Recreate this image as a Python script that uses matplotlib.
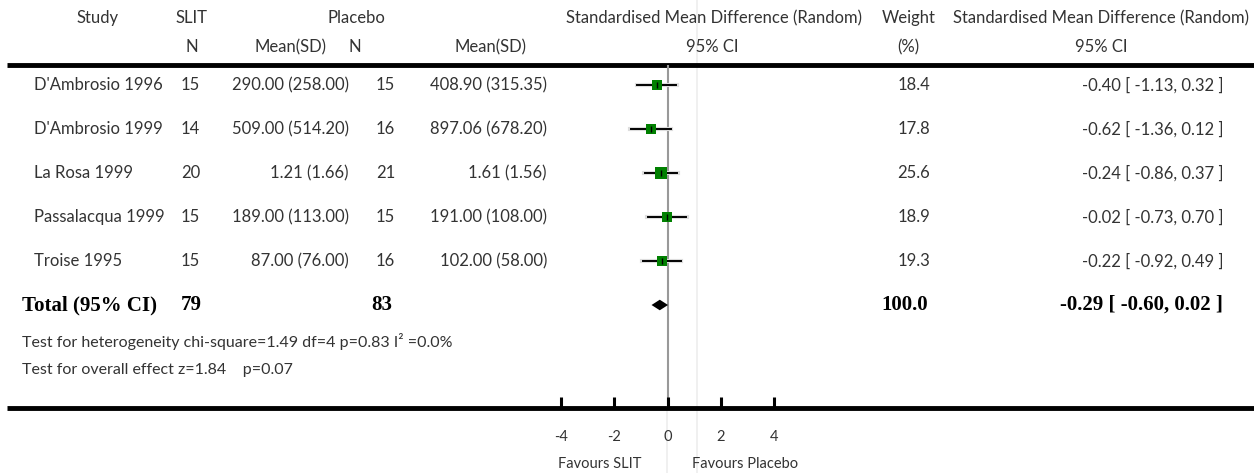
import matplotlib
matplotlib.use('Agg')
import matplotlib.pyplot as plt

# Dados dos estudos
estudos = ["D'Ambrosio 1996", "D'Ambrosio 1999", "La Rosa 1999", "Passalacqua 1999", "Troise 1995"]
slit_n = [15, 14, 20, 15, 15]
slit_media = ['290.00', '509.00', '1.21', '189.00', '87.00']
slit_dp = ['258.00', '514.20', '1.66', '113.00', '76.00']
placebo_n = [15, 16, 21, 15, 16]
placebo_media = ['408.90', '897.06', '1.61', '191.00', '102.00']
placebo_dp = ['315.35', '678.20', '1.56', '108.00', '58.00']
peso = [18.4, 17.8, 25.6, 18.9, 19.3]
smd = [-0.40, -0.62, -0.24, -0.02, -0.22]
ic_inf = [-1.13, -1.36, -0.86, -0.73, -0.92]
ic_sup = [0.32, 0.12, 0.37, 0.70, 0.49]

# Total
total_slit = 79
total_placebo = 83
total_peso = 100.0
total_smd = -0.29
total_inf = -0.60
total_sup = 0.02

ticks = [-4, -2, 0, 2, 4]

W, H = 1254, 473
fonte = 'Lato'
cor_txt = '#333333'
fs = 12

fig = plt.figure(figsize=(W / 100, H / 100), dpi=100)

# eixo de fundo em pixels para textos e linhas
ax0 = fig.add_axes([0, 0, 1, 1])
ax0.set_xlim(0, W)
ax0.set_ylim(H, 0)
ax0.axis('off')

# posição vertical de cada linha da tabela
def linha_y(i):
    return 85 + 44 * i

def txt(x, y, s, ha='left', **kw):
    kw.setdefault('family', fonte)
    kw.setdefault('fontsize', fs)
    kw.setdefault('color', cor_txt)
    ax0.text(x, y, s, ha=ha, va='center', **kw)

# cabeçalhos
txt(98, 18, 'Study', ha='center')
txt(192, 18, 'SLIT', ha='center')
txt(356, 18, 'Placebo', ha='center')
txt(714, 18, 'Standardised Mean Difference (Random)', ha='center')
txt(909, 18, 'Weight', ha='center')
txt(1101, 18, 'Standardised Mean Difference (Random)', ha='center')
txt(192, 47, 'N', ha='center')
txt(291, 47, 'Mean(SD)', ha='center')
txt(355, 47, 'N', ha='center')
txt(490, 47, 'Mean(SD)', ha='center')
txt(712, 47, '95% CI', ha='center')
txt(908, 47, '(%)', ha='center')
txt(1101, 47, '95% CI', ha='center')

ax0.plot([7, W], [65, 65], color='black', lw=3.5, solid_capstyle='butt')
ax0.plot([7, W], [408, 408], color='black', lw=3.5, solid_capstyle='butt')
ax0.plot([697, 697], [0, H], color='#eeeeee', lw=1.2, zorder=0)
ax0.plot([667, 667], [408, H], color='#eeeeee', lw=1.2, zorder=0)

for i in range(len(estudos)):
    y = linha_y(i)
    txt(34, y, estudos[i])
    txt(200, y, str(slit_n[i]), ha='right')
    txt(349, y, '%s (%s)' % (slit_media[i], slit_dp[i]), ha='right')
    txt(395, y, str(placebo_n[i]), ha='right')
    txt(547, y, '%s (%s)' % (placebo_media[i], placebo_dp[i]), ha='right')
    txt(930, y, '%.1f' % peso[i], ha='right')
    txt(1223, y, '%.2f [ %.2f, %.2f ]' % (smd[i], ic_inf[i], ic_sup[i]), ha='right')

yt = linha_y(5)
bold = dict(family='Liberation Serif', fontweight='bold', fontsize=15, color='black')
txt(22, yt, 'Total (95% CI)', **bold)
txt(202, yt, str(total_slit), ha='right', **bold)
txt(392, yt, str(total_placebo), ha='right', **bold)
txt(928, yt, '%.1f' % total_peso, ha='right', **bold)
txt(1223, yt, '%.2f [ %.2f, %.2f ]' % (total_smd, total_inf, total_sup), ha='right', **bold)

txt(22, 341, 'Test for heterogeneity chi-square=1.49 df=4 p=0.83 I² =0.0%', fontsize=11.5)
txt(22, 370, 'Test for overall effect z=1.84    p=0.07', fontsize=11.5)

# eixo do gráfico de floresta
x0, x1 = 561, 774
top, bot = 65, 408
ax = fig.add_axes([x0 / W, 1 - bot / H, (x1 - x0) / W, (bot - top) / H])
ax.patch.set_alpha(0)
ax.set_xlim(-4, 4)
ax.set_ylim((bot - 85) / 44, (top - 85) / 44)
for s in ax.spines.values():
    s.set_visible(False)
ax.set_yticks([])
ax.set_xticks(ticks)
ax.set_xticklabels([str(t) for t in ticks], family=fonte, fontsize=10.5, color=cor_txt)
ax.tick_params(axis='x', direction='in', length=8, width=2.2, color='black', pad=16)
ax.axvline(0, color='#999999', lw=1.5, zorder=1)

for i in range(len(estudos)):
    ax.plot([ic_inf[i] - 0.03, ic_sup[i] + 0.03], [i, i], color='#dddddd', lw=3, zorder=2)
    ax.plot([ic_inf[i], ic_sup[i]], [i, i], color='black', lw=1.4, zorder=2)
    ax.plot(smd[i], i, marker='s', color='green', markersize=1.65 * peso[i] ** 0.5,
            markeredgewidth=0, zorder=3)
    ax.plot(smd[i], i, marker='|', color='black', markersize=5, markeredgewidth=1, zorder=4)

ax.fill([total_inf, total_smd, total_sup, total_smd], [5, 4.88, 5, 5.12],
        color='black', lw=0, zorder=3)

txt(600, 464, 'Favours SLIT', ha='center', fontsize=10.5)
txt(745, 464, 'Favours Placebo', ha='center', fontsize=10.5)

fig.savefig('out.png', dpi=100)
